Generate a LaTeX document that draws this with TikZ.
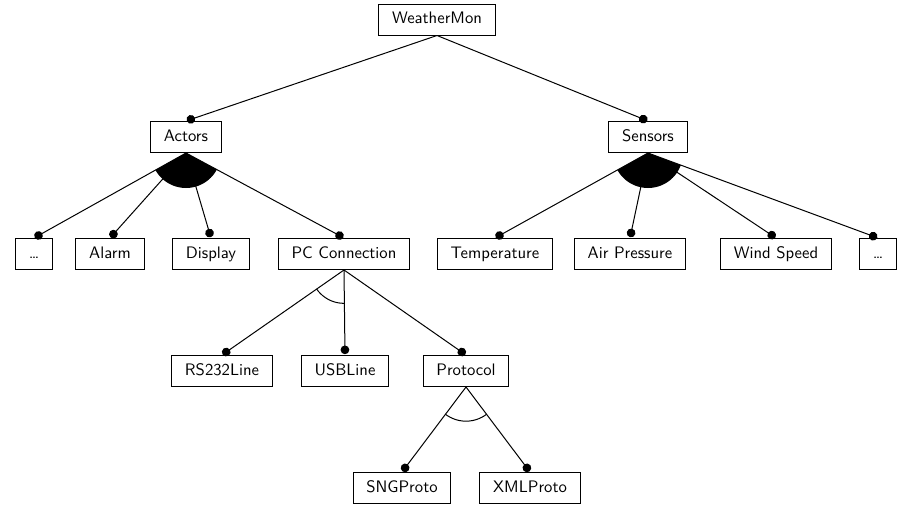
\documentclass[tikz,border=0pt]{standalone}
\usetikzlibrary{arrows.meta}

\begin{document}
\begin{tikzpicture}[
		x=0.6pt, y=-0.6pt, semithick,
		feature/.style={draw, rectangle, font=\sffamily, inner xsep=8pt, minimum height=18.6pt, text height=7pt, text depth=2pt},
		mandatory/.style={-{Circle[length=5.2pt]}, shorten >=0.5pt}
		]
		\useasboundingbox (0,0) rectangle (903,506);
		
		% --- root and first level ---
		\node[feature] (root) at (437,19.5) {WeatherMon};
		\node[feature] (actors) at (186,137) {Actors};
		\node[feature] (sensors) at (648,137) {Sensors};
		
		% --- second level ---
		\node[feature] (moreA) at (34,254) {\dots};
		\node[feature] (alarm) at (110,254) {Alarm};
		\node[feature] (display) at (211,254) {Display};
		\node[feature] (pc) at (344,254) {PC Connection};
		\node[feature] (temp) at (495,254) {Temperature};
		\node[feature] (air) at (630,254) {Air Pressure};
		\node[feature] (wind) at (776,254) {Wind Speed};
		\node[feature] (moreS) at (878,254) {\dots};
		
		% --- third and fourth level ---
		\node[feature] (rs) at (222,371) {RS232Line};
		\node[feature] (usb) at (345,371) {USBLine};
		\node[feature] (proto) at (466,371) {Protocol};
		\node[feature] (sng) at (402,488) {SNGProto};
		\node[feature] (xml) at (530,488) {XMLProto};
		
		% or-groups (filled)
		\begin{scope}
			\clip (actors.south) -- (moreA.north) -- (pc.north) -- cycle;
			\fill (actors.south) circle (21pt);
		\end{scope}
		\begin{scope}
			\clip (sensors.south) -- (temp.north) -- (moreS.north) -- cycle;
			\fill (sensors.south) circle (21pt);
		\end{scope}
		
		% alternative groups (open arc)
		\begin{scope}
			\clip (pc.south) -- (rs.north) -- (usb.north) -- cycle;
			\draw (pc.south) circle (20pt);
		\end{scope}
		\begin{scope}
			\clip (proto.south) -- (sng.north) -- (xml.north) -- cycle;
			\draw (proto.south) circle (20.5pt);
		\end{scope}
		
		% connectors
		\foreach \p/\c in {root/actors, root/sensors,
			actors/moreA, actors/alarm, actors/display, actors/pc,
			sensors/temp, sensors/air, sensors/wind, sensors/moreS,
			pc/rs, pc/usb, pc/proto, proto/sng, proto/xml}
			\draw[mandatory] (\p.south) -- (\c.north);
		
	\end{tikzpicture}
\end{document}
